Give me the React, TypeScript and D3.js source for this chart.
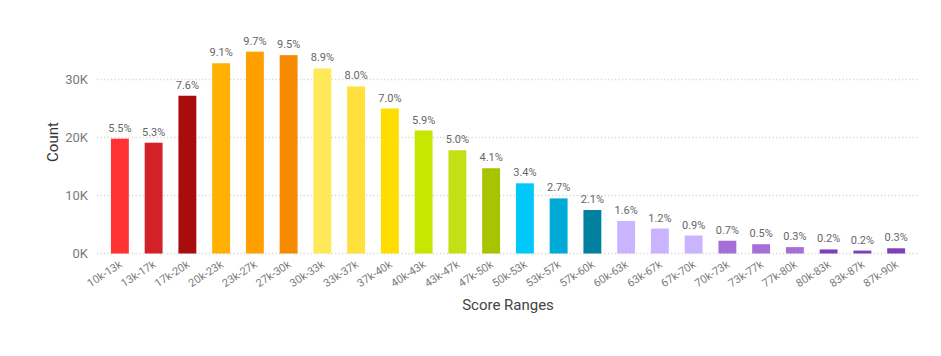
import React from "react";
import * as d3 from "d3";

const categories = ["10k-13k","13k-17k","17k-20k","20k-23k","23k-27k","27k-30k","30k-33k","33k-37k","37k-40k","40k-43k","43k-47k","47k-50k","50k-53k","53k-57k","57k-60k","60k-63k","63k-67k","67k-70k","70k-73k","73k-77k","77k-80k","80k-83k","83k-87k","87k-90k"];
const counts = [19800,19100,27200,32800,34800,34200,31900,28800,25000,21200,17800,14700,12100,9500,7500,5600,4300,3100,2200,1600,1100,700,500,900];
const percentLabels = ["5.5%","5.3%","7.6%","9.1%","9.7%","9.5%","8.9%","8.0%","7.0%","5.9%","5.0%","4.1%","3.4%","2.7%","2.1%","1.6%","1.2%","0.9%","0.7%","0.5%","0.3%","0.2%","0.2%","0.3%"];
const barColors = ["#FF3333","#D42027","#A80C0C","#FFB000","#FFA000","#F68A00","#FFE958","#FFE03C","#FFDD00","#C9E600","#C2E015","#A8C400","#00C8FA","#00AAD6","#00809E","#CBB4FF","#CBB4FF","#CBB4FF","#A66FD8","#A66FD8","#A66FD8","#7E40B8","#7E40B8","#7E40B8"];
const yTicks = [0, 10000, 20000, 30000];
const yTickLabels = ["0K", "10K", "20K", "30K"];

const W = 941, H = 356;
const FONT = "Roboto, 'Open Sans', sans-serif";

export default function App() {
  const x = d3.scaleBand<string>().domain(categories).range([103, 913]).paddingInner(0.47).paddingOuter(0.235);
  const y = d3.scaleLinear().domain([0, 30000]).range([253.5, 79.5]);
  const bw = x.bandwidth();
  return (
    <svg width={W} height={H} style={{ position: "absolute", left: 0, top: 0, background: "#fff" }}>
      <rect x={0} y={0} width={W} height={H} fill="#fff" />
      {yTicks.map((t, i) => (
        <g key={t}>
          <line x1={97} x2={918} y1={y(t)} y2={y(t)} stroke="#d6d6d6" strokeWidth={1.3} strokeDasharray="1.2,2.3" />
          <text x={88} y={y(t)} dy="0.35em" textAnchor="end" fontFamily={FONT} fontSize={13} fill="#7a7a7a">{yTickLabels[i]}</text>
        </g>
      ))}
      {categories.map((c, i) => {
        const cx = (x(c) as number) + bw / 2;
        return (
          <g key={c}>
            <rect x={x(c)} y={y(counts[i])} width={bw} height={y(0) - y(counts[i])} fill={barColors[i]} />
            <text x={cx} y={y(counts[i]) - 7} textAnchor="middle" fontFamily={FONT} fontSize={11} fill="#666">{percentLabels[i]}</text>
            <text transform={`translate(${cx + 1},${263}) rotate(-33)`} textAnchor="end" dy="0.35em" fontFamily={FONT} fontSize={11} fill="#7a7a7a">{c}</text>
          </g>
        );
      })}
      <text transform="translate(58,142) rotate(-90)" textAnchor="middle" fontFamily={FONT} fontSize={15} fill="#333">Count</text>
      <text x={508} y={310} textAnchor="middle" fontFamily={FONT} fontSize={15} fill="#444">Score Ranges</text>
    </svg>
  );
}
